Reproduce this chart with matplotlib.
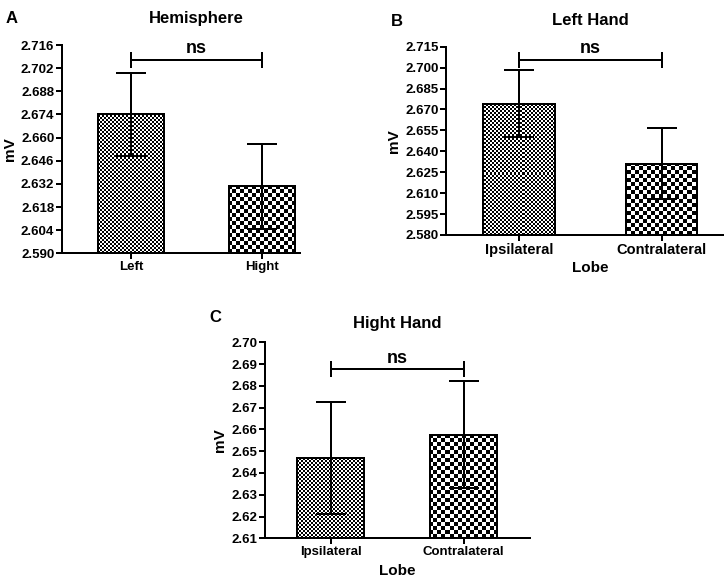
"""Bar charts of mean mV per group (Hemisphere / Left Hand / Hight Hand)."""

import numpy as np
import matplotlib

matplotlib.use("Agg", force=True)
import matplotlib.pyplot as plt
from matplotlib.transforms import blended_transform_factory

plt.rcParams["font.family"] = ["Liberation Sans", "DejaVu Sans"]
plt.rcParams["font.weight"] = "bold"

# panel A
hemi_groups = ["Left", "Hight"]
hemi_mean = [2.674, 2.6305]
hemi_sem = [0.025, 0.0255]
hemi_ticks = ["2.590", "2.604", "2.618", "2.632", "2.646", "2.660", "2.674", "2.688", "2.702", "2.716"]
hemi_sig = 2.707

# panel B
left_groups = ["Ipsilateral", "Contralateral"]
left_mean = [2.674, 2.631]
left_sem = [0.024, 0.0255]
left_ticks = ["2.580", "2.595", "2.610", "2.625", "2.640", "2.655", "2.670", "2.685", "2.700", "2.715"]
left_sig = 2.7055

# panel C
right_groups = ["Ipsilateral", "Contralateral"]
right_mean = [2.6467, 2.6576]
right_sem = [0.0257, 0.0246]
right_ticks = ["2.61", "2.62", "2.63", "2.64", "2.65", "2.66", "2.67", "2.68", "2.69", "2.70"]
right_sig = 2.6876

LW = 1.44  # 2 px at 100 dpi


def checker_fill(ax, bar, cell):
    """Fill a bar with a black/white checkerboard of `cell` pixels."""
    nx = int(round(ax.bbox.width / cell))
    ny = int(round(ax.bbox.height / cell))
    grid = (np.add.outer(np.arange(ny), np.arange(nx)) % 2).astype(float)
    x0, x1 = ax.get_xlim()
    y0, y1 = ax.get_ylim()
    im = ax.imshow(grid, cmap="gray", vmin=0, vmax=1, extent=(x0, x1, y0, y1),
                   aspect="auto", interpolation="nearest", origin="lower", zorder=1.5)
    im.set_clip_path(bar)
    ax.set_xlim(x0, x1)
    ax.set_ylim(y0, y1)


def draw_panel(ax, groups, means, sems, ticks, sig_y, xlim, title, title_off,
               xlabel=None, xtick_size=9.5, cells=(2, 4)):
    x = np.arange(len(groups))
    ax.set_xlim(*xlim)
    ax.set_ylim(float(ticks[0]), float(ticks[-1]))
    bars = ax.bar(x, means, width=0.5, facecolor="none", edgecolor="black",
                  linewidth=LW, zorder=2)
    for bar, cell in zip(bars, cells):
        checker_fill(ax, bar, cell)
    eb = ax.errorbar(x, means, yerr=sems, fmt="none", ecolor="black", elinewidth=LW,
                     capsize=11, capthick=LW, zorder=3)
    for coll in eb.lines[2]:
        coll.set_snap(True)

    ax.set_yticks([float(t) for t in ticks])
    ax.set_yticklabels(ticks)
    ax.set_xticks(x)
    ax.set_xticklabels(groups)
    ax.tick_params(width=LW, length=4, pad=1.5, labelsize=9.5)
    ax.tick_params(axis="x", labelsize=xtick_size)
    for side in ("top", "right"):
        ax.spines[side].set_visible(False)
    for side in ("left", "bottom"):
        ax.spines[side].set_linewidth(LW)
    ax.set_ylabel("mV", fontsize=11, fontweight="bold", labelpad=3)

    # significance bracket
    ax.plot([x[0], x[1]], [sig_y, sig_y], color="black", lw=LW, marker="|",
            markersize=11, markeredgewidth=LW, clip_on=False, zorder=4)
    ax.annotate("ns", xy=(x.mean(), sig_y), xytext=(0, 11), textcoords="offset pixels",
                ha="center", va="center", fontsize=13, fontweight="bold")

    trans = blended_transform_factory(ax.transData, ax.transAxes)
    ax.annotate(title, xy=(x.mean(), 1), xycoords=trans, xytext=(0, title_off),
                textcoords="offset pixels", ha="center", va="center",
                fontsize=12, fontweight="bold")
    if xlabel:
        ax.annotate(xlabel, xy=(x.mean(), 0), xycoords=trans, xytext=(0, -33),
                    textcoords="offset pixels", ha="center", va="center",
                    fontsize=11, fontweight="bold")


fig = plt.figure(figsize=(7.25, 5.85), dpi=100)
ax_a = fig.add_axes([0.0855, 0.567, 0.3283, 0.356])
ax_b = fig.add_axes([0.6152, 0.5983, 0.382, 0.3219])
ax_c = fig.add_axes([0.3655, 0.0798, 0.3655, 0.335])

draw_panel(ax_a, hemi_groups, hemi_mean, hemi_sem, hemi_ticks, hemi_sig,
           (-0.527, 1.29), "Hemisphere", 27)
draw_panel(ax_b, left_groups, left_mean, left_sem, left_ticks, left_sig,
           (-0.51, 1.43), "Left Hand", 26, xlabel="Lobe", xtick_size=10.5)
draw_panel(ax_c, right_groups, right_mean, right_sem, right_ticks, right_sig,
           (-0.494, 1.50), "Hight Hand", 19, xlabel="Lobe")

fig.text(0.0166, 0.969, "A", fontsize=12, fontweight="bold", ha="center", va="center")
fig.text(0.5476, 0.9624, "B", fontsize=12, fontweight="bold", ha="center", va="center")
fig.text(0.2966, 0.458, "C", fontsize=12, fontweight="bold", ha="center", va="center")

fig.savefig("out.png", dpi=100)
plt.close(fig)
